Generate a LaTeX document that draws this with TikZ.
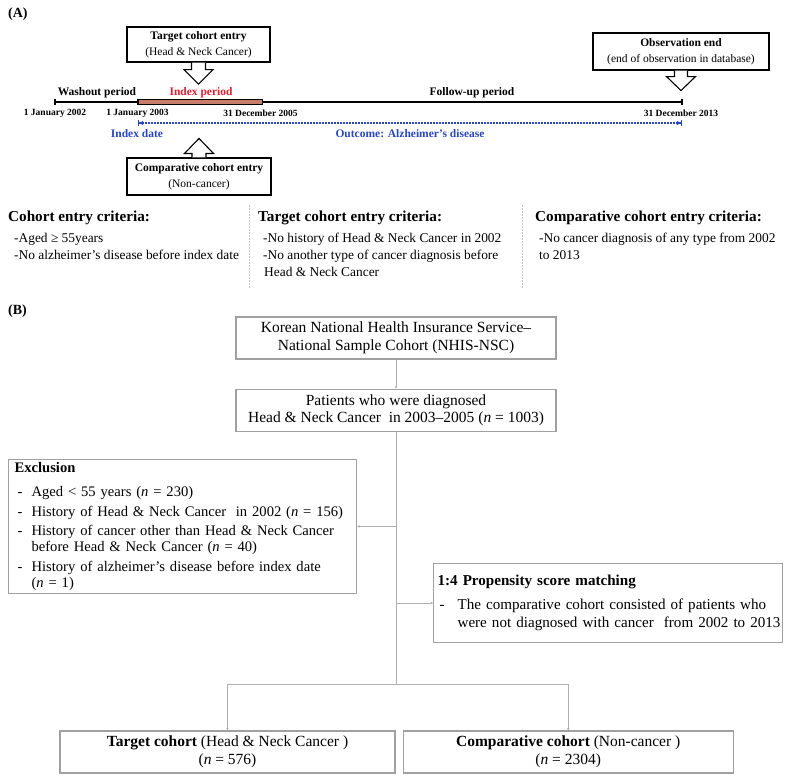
\documentclass[tikz,border=0pt]{standalone}
\usepackage{fontspec}
\setmainfont{Liberation Serif}
\usetikzlibrary{arrows.meta,positioning}

\definecolor{idxred}{RGB}{220,30,45}
\definecolor{idxband}{RGB}{200,125,105}
\definecolor{outblue}{RGB}{40,70,190}
\definecolor{boxgray}{RGB}{160,160,160}
\definecolor{linegray}{RGB}{175,175,175}

\newcommand{\fontA}{\fontsize{11.5}{16}\selectfont}
\newcommand{\fontDate}{\fontsize{9.5}{11}\selectfont}
\newcommand{\fontHead}{\fontsize{15.2}{18}\selectfont}
\newcommand{\fontCrit}{\fontsize{13.4}{17}\selectfont}
\newcommand{\fontB}{\fontsize{15.5}{17.5}\selectfont}
\newcommand{\fontEx}{\fontsize{14.6}{16}\selectfont}
\newcommand{\fontPs}{\fontsize{15.1}{16.5}\selectfont}
\newcommand{\dashln}{\makebox[17pt][l]{\hspace{3pt}-}}
\newcommand{\hangln}{\hspace*{17pt}}

\tikzset{
  entrybox/.style={draw, line width=1.1pt, align=center, inner sep=2pt, font=\fontA},
  blockarrow/.style={draw, line width=1.1pt, fill=white, line join=miter},
  flowbox/.style={draw=boxgray, line width=1.2pt, align=center, font=\fontB, inner sep=3pt},
  flowline/.style={draw=linegray, line width=1pt, -{Stealth[length=2.5pt,width=2.5pt]}},
}

\begin{document}
\begin{tikzpicture}[x=1pt, y=-1pt]
  \useasboundingbox (0,0) rectangle (787,780);

  % (A) timeline
  \node[font=\bfseries\fontsize{14}{16}\selectfont, anchor=west, inner sep=0] (labA) at (8,14) {(A)};
  \coordinate (d02) at (55,102);
  \coordinate (d03) at (138,102);
  \coordinate (d05) at (262,102);
  \coordinate (d13) at (682,102);
  \draw[line width=1.2pt] (d02) -- (d13);
  \foreach \d in {d02,d03,d05,d13}
    \draw[line width=1.2pt] ([yshift=-3pt]\d) -- ([yshift=3pt]\d);
  \draw[line width=0.8pt, fill=idxband] ([yshift=2.5pt]d03) rectangle ([yshift=-2.5pt]d05);

  \node[font=\fontA\bfseries] (washout) at (97,93) {Washout period};
  \node[font=\fontA\bfseries, text=idxred] (indexper) at (201,93) {Index period};
  \node[font=\fontA\bfseries] (followup) at (472,93) {Follow-up period};

  \node[font=\fontDate\bfseries] (l02) at (55,113) {1 January 2002};
  \node[font=\fontDate\bfseries] (l03) at (137.5,113) {1 January 2003};
  \node[font=\fontDate\bfseries] (l05) at (260.5,113) {31 December 2005};
  \node[font=\fontDate\bfseries] (l13) at (681,113) {31 December 2013};

  \coordinate (o03) at (138,123);
  \coordinate (o13) at (682,123);
  \draw[outblue, line width=2pt, dash pattern=on 1.8pt off 1.2pt,
        {Bar[width=6pt,line width=1.2pt]Latex[length=4pt,width=5pt]}-{Latex[length=4pt,width=5pt]Bar[width=6pt,line width=1.2pt]}] (o03) -- (o13);
  \node[font=\fontA\bfseries, text=outblue] (idxdate) at (137,134) {Index date};
  \node[font=\fontA\bfseries, text=outblue] (outcome) at (410,134) {Outcome: Alzheimer’s disease};

  % entry boxes and block arrows
  \node[entrybox, minimum width=143pt, minimum height=35pt] (tgtentry) at (198.5,44.5)
    {\textbf{Target cohort entry}\\(Head \& Neck Cancer)};
  \draw[blockarrow] ([xshift=-7pt]tgtentry.south) -- ++(0,7) -- ++(-7.5,0) -- ++(14.5,14.5)
    -- ++(14.5,-14.5) -- ++(-7.5,0) -- ++(0,-7);

  \node[entrybox, minimum width=176pt, minimum height=37pt] (obsend) at (681,51.5)
    {\textbf{Observation end}\\(end of observation in database)};
  \draw[blockarrow] ([xshift=-6.5pt]obsend.south) -- ++(0,6) -- ++(-8,0) -- ++(14.5,14)
    -- ++(14.5,-14) -- ++(-8,0) -- ++(0,-6);

  \node[entrybox, minimum width=144pt, minimum height=37pt] (compentry) at (199,176.5)
    {\textbf{Comparative cohort entry}\\(Non-cancer)};
  \draw[blockarrow] ([xshift=-7pt]compentry.north) -- ++(0,-4) -- ++(-7.5,0) -- ++(14.5,-15)
    -- ++(14.5,15) -- ++(-7.5,0) -- ++(0,4);

  % entry criteria
  \node[font=\fontHead\bfseries, anchor=west, inner sep=0] (crit1) at (8,218) {Cohort entry criteria:};
  \node[font=\fontCrit, align=left, anchor=north west, inner sep=0] (crit1list) at (14,233)
    {-Aged ≥ 55years\\-No alzheimer’s disease before index date};
  \node[font=\fontHead\bfseries, anchor=west, inner sep=0] (crit2) at (258,218) {Target cohort entry criteria:};
  \node[font=\fontCrit, align=left, anchor=north west, inner sep=0] (crit2list) at (263,233)
    {-No history of Head \& Neck Cancer in 2002\\-No another type of cancer diagnosis before\\\hspace*{1pt}Head \& Neck Cancer};
  \node[font=\fontHead\bfseries, anchor=west, inner sep=0] (crit3) at (535,218) {Comparative cohort entry criteria:};
  \node[font=\fontCrit, align=left, anchor=north west, inner sep=0] (crit3list) at (539,233)
    {-No cancer diagnosis of any type from 2002\\to 2013};
  \draw[gray!45, line width=0.8pt, dash pattern=on 1.5pt off 1.5pt] (249,205) -- (249,288);
  \draw[gray!45, line width=0.8pt, dash pattern=on 1.5pt off 1.5pt] (522,205) -- (522,288);

  % (B) flow chart
  \node[font=\bfseries\fontsize{14}{16}\selectfont, anchor=west, inner sep=0] (labB) at (8,311) {(B)};
  \node[flowbox, minimum width=320pt, minimum height=42pt] (nhis) at (396,338)
    {Korean National Health Insurance Service–\\National Sample Cohort (NHIS-NSC)};
  \node[flowbox, minimum width=320pt, minimum height=42pt, below=29pt of nhis] (diag)
    {Patients who were diagnosed\\Head \& Neck Cancer\ \ in 2003–2005 (\textit{n} = 1003)};
  \draw[flowline] (nhis) -- (diag);
  \coordinate (split) at (396,684);
  \draw[linegray, line width=1pt] (diag.south) -- (split);

  \node[flowbox, font=\fontEx, align=left, text width=336pt, minimum height=133pt, inner xsep=6pt,
        anchor=north west] (excl) at (8,459)
    {\textbf{Exclusion}\\[8pt]
     \mbox{\dashln Aged < 55 years (\textit{n} = 230)}\\[3.5pt]
     \mbox{\dashln History of Head \& Neck Cancer\ \ in 2002 (\textit{n} = 156)}\\[3.5pt]
     \mbox{\dashln History of cancer other than Head \& Neck Cancer}\\
     \mbox{\hangln before Head \& Neck Cancer (\textit{n} = 40)}\\[3.5pt]
     \mbox{\dashln History of alzheimer’s disease before index date}\\
     \mbox{\hangln (\textit{n} = 1)}};
  \draw[flowline] (diag.south |- excl.east) -- (excl.east);

  \node[flowbox, font=\fontPs, align=left, text width=341pt, minimum height=79pt, inner xsep=4pt,
        anchor=north west] (psm) at (433,563)
    {\textbf{1:4 Propensity score matching}\\[7pt]
     \mbox{\makebox[20pt][l]{\hspace{2pt}-}The comparative cohort consisted of patients who}\\[2pt]
     \mbox{\hspace*{20pt}were not diagnosed with cancer\ \ from 2002 to 2013}};
  \draw[flowline] (diag.south |- psm.west) -- (psm.west);

  \node[flowbox, minimum width=335pt, minimum height=42pt] (tgtcoh) at (227.5,752)
    {\textbf{Target cohort} (Head \& Neck Cancer )\\(\textit{n} = 576)};
  \node[flowbox, minimum width=330pt, minimum height=42pt, right=7pt of tgtcoh] (cmpcoh)
    {\textbf{Comparative cohort} (Non-cancer )\\(\textit{n} = 2304)};
  \draw[linegray, line width=1pt] (tgtcoh.north |- split) -- (cmpcoh.north |- split);
  \draw[flowline] (tgtcoh.north |- split) -- (tgtcoh.north);
  \draw[flowline] (cmpcoh.north |- split) -- (cmpcoh.north);
\end{tikzpicture}
\end{document}
